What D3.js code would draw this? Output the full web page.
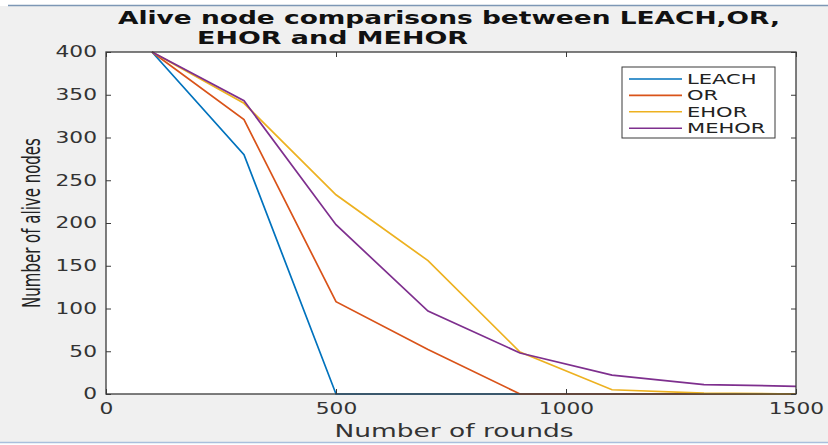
<!DOCTYPE html>
<html>
<head>
<meta charset="utf-8">
<script src="https://cdn.jsdelivr.net/npm/d3@7"></script>
<style>
  html, body { margin: 0; padding: 0; background: #fff; }
  svg { display: block; font-family: "DejaVu Sans", sans-serif; }
</style>
</head>
<body>
<div id="main-frame"></div>
<script>
// data
const rounds = [100, 300, 500, 700, 900, 1100, 1300, 1500];
const leach = [400, 280, 0, 0, 0, 0, 0, 0];
const orr = [400, 321, 108, 52, 0, 0, 0, 0];
const ehor = [400, 340, 233, 156, 49, 5, 1, 0];
const mehor = [400, 343, 198, 97, 48, 22, 11, 9];
const seriesNames = ["LEACH", "OR", "EHOR", "MEHOR"];
const seriesColors = ["#0072BD", "#D95319", "#EDB120", "#7E2F8E"];
const xTicks = [0, 500, 1000, 1500];
const yTicks = [0, 50, 100, 150, 200, 250, 300, 350, 400];

const W = 828, H = 445;
const plot = { left: 106, right: 796, top: 52, bottom: 394 };
const sx = 1.45; // the picture is stretched wide

const svg = d3
  .select("#main-frame")
  .append("svg")
  .attr("width", W)
  .attr("height", H);

// figure background + frame lines
svg.append("rect").attr("width", W).attr("height", H).attr("fill", "#fff");
svg.append("rect").attr("x", 0).attr("y", 6).attr("width", W).attr("height", 436).attr("fill", "#f0f0f0");
svg.append("line").attr("x1", 8).attr("x2", W).attr("y1", 5.5).attr("y2", 5.5)
  .attr("stroke", "#7d97b5").attr("stroke-width", 1.5);
svg.append("line").attr("x1", 0).attr("x2", W).attr("y1", 442.5).attr("y2", 442.5)
  .attr("stroke", "#a9bfdc").attr("stroke-width", 1.5);

const xScale = d3.scaleLinear().domain([0, 1500]).range([plot.left, plot.right]);
const yScale = d3.scaleLinear().domain([0, 400]).range([plot.bottom, plot.top]);

svg.append("rect")
  .attr("x", plot.left).attr("y", plot.top)
  .attr("width", plot.right - plot.left).attr("height", plot.bottom - plot.top)
  .attr("fill", "#fff");

// lines
const lineGen = d3.line().x((d) => xScale(d[0])).y((d) => yScale(d[1]));
const allSeries = [leach, orr, ehor, mehor];
allSeries.forEach((vals, i) => {
  svg.append("path")
    .datum(rounds.map((r, j) => [r, vals[j]]))
    .attr("fill", "none")
    .attr("stroke", seriesColors[i])
    .attr("stroke-width", 1.7)
    .attr("d", lineGen);
});

// axes (ticks point inward, like matlab)
const axisColor = "#3a3a3a";
svg.append("g")
  .attr("transform", `translate(0, ${plot.bottom})`)
  .call(d3.axisBottom(xScale).tickValues(xTicks).tickFormat(d3.format("d"))
    .tickSizeInner(-5).tickSizeOuter(0).tickPadding(9));
svg.append("g")
  .attr("transform", `translate(${plot.left}, 0)`)
  .call(d3.axisLeft(yScale).tickValues(yTicks).tickFormat(d3.format("d"))
    .tickSizeInner(-5).tickSizeOuter(0).tickPadding(9 / sx));
svg.append("g")
  .attr("transform", `translate(0, ${plot.top})`)
  .call(d3.axisTop(xScale).tickValues(xTicks).tickSizeInner(-5).tickSizeOuter(0).tickFormat(""));
svg.append("g")
  .attr("transform", `translate(${plot.right}, 0)`)
  .call(d3.axisRight(yScale).tickValues(yTicks).tickSizeInner(-5).tickSizeOuter(0).tickFormat(""));

svg.selectAll(".domain").remove();
svg.selectAll(".tick line").attr("stroke", axisColor);
svg.selectAll(".tick text")
  .attr("fill", "#333")
  .style("font-size", "15px")
  .style("font-family", "DejaVu Sans")
  .attr("transform", `scale(${sx},1)`);

svg.append("rect")
  .attr("x", plot.left).attr("y", plot.top)
  .attr("width", plot.right - plot.left).attr("height", plot.bottom - plot.top)
  .attr("fill", "none").attr("stroke", axisColor).attr("stroke-width", 1.3);

// stretch helper for horizontal text
function stretch(sel, factor) {
  sel.each(function () {
    const len = this.getComputedTextLength();
    d3.select(this).attr("textLength", len * factor).attr("lengthAdjust", "spacingAndGlyphs");
  });
}

// title
const titleLines = ["Alive node comparisons between LEACH,OR,", "EHOR and MEHOR"];
svg.append("text").attr("x", 118).attr("y", 24)
  .style("font-size", "17px").style("font-weight", "bold").attr("fill", "#111")
  .attr("textLength", 662).attr("lengthAdjust", "spacingAndGlyphs")
  .text(titleLines[0]);
svg.append("text").attr("x", 197).attr("y", 44)
  .style("font-size", "17px").style("font-weight", "bold").attr("fill", "#111")
  .attr("textLength", 271).attr("lengthAdjust", "spacingAndGlyphs")
  .text(titleLines[1]);

// axis labels
svg.append("text").attr("x", 454).attr("y", 437)
  .attr("text-anchor", "middle").style("font-size", "17px").attr("fill", "#333")
  .attr("textLength", 239).attr("lengthAdjust", "spacingAndGlyphs")
  .text("Number of rounds");

svg.append("text")
  .attr("transform", `translate(40, 223) scale(1.6,1) rotate(-90)`)
  .attr("text-anchor", "middle").style("font-size", "15px").attr("fill", "#222")
  .text("Number of alive nodes");

// legend
const legend = svg.append("g").attr("transform", "translate(622, 67)");
legend.append("rect").attr("width", 153).attr("height", 71)
  .attr("fill", "#fff").attr("stroke", axisColor).attr("stroke-width", 1);
seriesNames.forEach((name, i) => {
  const y = 12 + i * 16.4;
  legend.append("line").attr("x1", 7).attr("x2", 60).attr("y1", y).attr("y2", y)
    .attr("stroke", seriesColors[i]).attr("stroke-width", 1.6);
  const tx = legend.append("text").attr("x", 65).attr("y", y + 5)
    .style("font-size", "14.5px").attr("fill", "#222").text(name);
  stretch(tx, sx);
});
</script>
</body>
</html>
